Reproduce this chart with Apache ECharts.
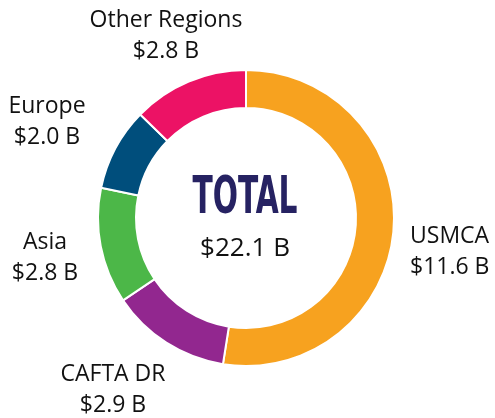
<!DOCTYPE html>
<html>
<head>
<meta charset="utf-8">
<style>
  html, body { margin: 0; padding: 0; background: #fff; }
  #chart { width: 495px; height: 418px; }
</style>
<script src="https://cdn.jsdelivr.net/npm/echarts@6/dist/echarts.min.js"></script>
</head>
<body>
<div id="chart"></div>
<script>
// regions in clockwise order from 12 o'clock
const regions = ["USMCA", "CAFTA DR", "Asia", "Europe", "Other Regions"];
const values = [11.6, 2.9, 2.8, 2.0, 2.8];
const colors = ["#F7A21F", "#92278F", "#4CB748", "#004E7C", "#EC1265"];
const totalLabel = "TOTAL";
const totalValue = "$22.1 B";

// where each label block sits (x, y, align)
const labelAnchors = [
  [410, 252, "left"],
  [113, 390, "center"],
  [45, 258, "center"],
  [47, 122, "center"],
  [166, 36, "center"],
];

const chart = echarts.init(document.getElementById("chart"));
const option = {
  animation: false,
  graphic: [
    {
      type: "text",
      x: 245,
      y: 200,
      scaleY: 1.55,
      style: {
        text: totalLabel,
        font: 'bold 33px "Liberation Sans Narrow", "DejaVu Sans Condensed", sans-serif',
        fill: "#262262",
        textAlign: "center",
        textVerticalAlign: "middle",
      },
    },
    {
      type: "text",
      x: 245,
      y: 249,
      style: {
        text: totalValue,
        font: '26px "Open Sans", sans-serif',
        fill: "#111",
        textAlign: "center",
        textVerticalAlign: "middle",
      },
    },
  ],
  series: [
    {
      type: "pie",
      center: [246, 218],
      radius: [110, 148],
      startAngle: 90,
      clockwise: true,
      itemStyle: { borderColor: "#fff", borderWidth: 2 },
      label: {
        show: true,
        position: "inside",
        formatter: (p) => p.name + "\n$" + p.value.toFixed(1) + " B",
        fontFamily: "Open Sans",
        fontSize: 23,
        lineHeight: 31,
        color: "#111",
        overflow: "none",
      },
      labelLine: { show: false },
      labelLayout: (params) => {
        const a = labelAnchors[params.dataIndex];
        return { x: a[0], y: a[1], align: a[2], verticalAlign: "middle" };
      },
      emphasis: { disabled: true },
      data: regions.map((name, i) => ({
        name: name,
        value: values[i],
        itemStyle: { color: colors[i] },
      })),
    },
  ],
};
chart.setOption(option);
</script>
</body>
</html>
